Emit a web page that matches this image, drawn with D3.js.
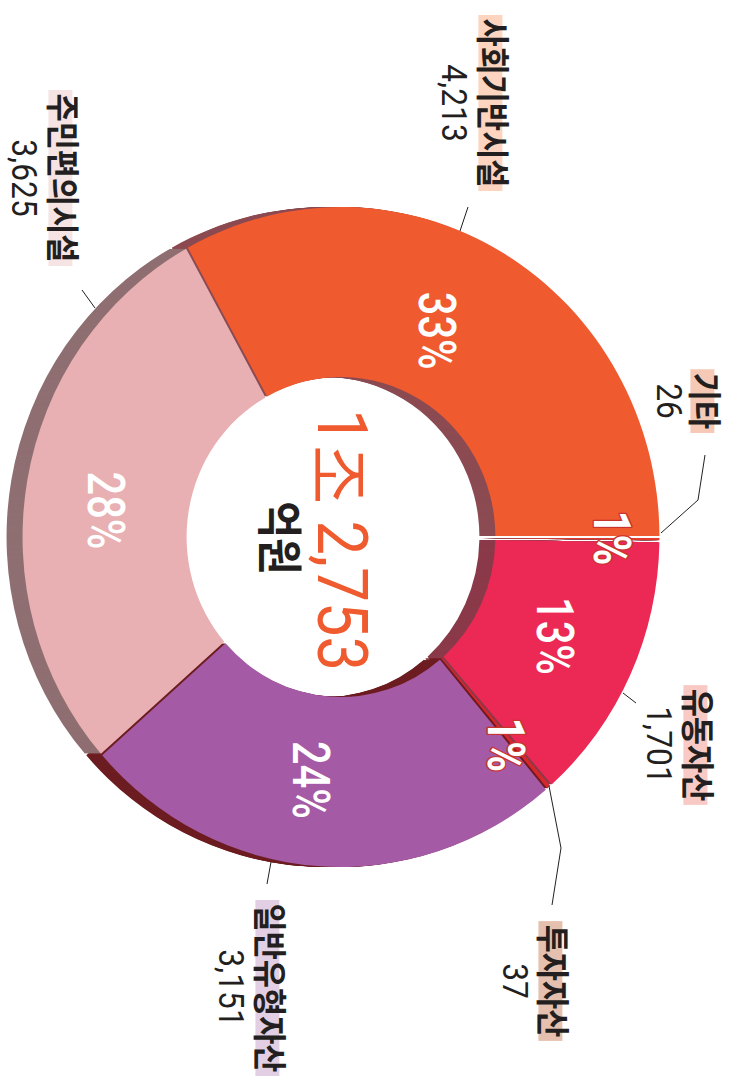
<!DOCTYPE html>
<html>
<head>
<meta charset="utf-8">
<script src="https://d3js.org/d3.v7.min.js"></script>
<style>
    body { margin: 0; background-color: #fff; }
    svg { display: block; }
</style>
</head>
<body>
<svg width="733" height="1087"></svg>
<script>
// slices, clockwise from 3 o'clock (the whole chart is turned 90deg)
var categories = ["기타", "유동자산", "투자자산", "일반유형자산", "주민편의시설", "사회기반시설"];
var values = [26, 1701, 37, 3151, 3625, 4213];
var pctLabels = ["1%", "13%", "1%", "24%", "28%", "33%"];
var unitLabel = "억원";

var faceColors = ["#e23a2c", "#ec2954", "#d8262d", "#a55aa5", "#e8b0b2", "#f05a2f"];
var wallColors = ["#8c4a52", "#8b3a4a", "#6e1b1f", "#6d1e22", "#8f6f72", "#8c4b52"];
var tagColors  = ["#f6c9b7", "#f9c9c5", "#e6c0ae", "#e2cfe4", "#f6e4e4", "#fcd4bf"];

// percentage placement: radius and a small angle nudge (degrees) from the slice middle
var pctPos = [
    {r: 281, da: -0.2}, {r: 243, da: -0.7}, {r: 269, da: 1.3},
    {r: 245, da: 3}, {r: 245, da: -3.7}, {r: 229, da: -4.8}
];

// where the outside labels sit (glyph bottom of name / value, centre y) and their leader lines
var labelPos = [
    {x: 690, vx: 657, y: 401, leader: [[705, 455], [698, 500], [661, 533]]},
    {x: 683, vx: 647, y: 745, leader: [[623, 693], [636, 703]]},
    {x: 538, vx: 503, y: 981, leader: [[549, 786], [561, 848], [552, 905]]},
    {x: 255, vx: 219, y: 988, leader: [[271, 862], [267, 884]]},
    {x: 48,  vx: 12,  y: 178, leader: [[95, 308], [82, 290]]},
    {x: 478, vx: 442, y: 103, leader: [[460, 231], [468, 207]]}
];

var svg = d3.select("svg"),
    cx = 341, cy = 537,
    rOuter = 330, rInner = 160,
    sx = 0.965,        // top face is a little squashed
    depth = 16;        // thickness of the ring, seen on the left

var latin = "Roboto, 'Liberation Sans', Arimo, Arial, sans-serif";
var hangul = "'Noto Sans CJK KR', 'Noto Sans', sans-serif";

var pie = d3.pie()
    .sort(null)
    .startAngle(Math.PI / 2)
    .endAngle(Math.PI / 2 + 2 * Math.PI);
var arcs = pie(values);

var arc = d3.arc()
    .innerRadius(rInner)
    .outerRadius(rOuter)
    .padAngle(2 / rOuter)
    .padRadius(rOuter);

// side walls: stacked copies shifted to the left
for (var t = depth; t >= 1; t -= 1) {
    svg.append("g")
        .attr("transform", "translate(" + (cx - t) + "," + cy + ") scale(" + sx + ",1)")
        .selectAll("path")
        .data(arcs)
        .enter().append("path")
        .attr("d", arc)
        .attr("fill", function(d, i) { return wallColors[i]; });
}

// top face
svg.append("g")
    .attr("transform", "translate(" + cx + "," + cy + ") scale(" + sx + ",1)")
    .selectAll("path")
    .data(arcs)
    .enter().append("path")
    .attr("d", arc)
    .attr("fill", function(d, i) { return faceColors[i]; });

function turned(x, y, k) {
    return svg.append("g")
        .attr("transform", "translate(" + x + "," + y + ") rotate(90) scale(" + k + ",1)");
}

// percentages inside the ring
arcs.forEach(function(d, i) {
    var a = (d.startAngle + d.endAngle) / 2 + pctPos[i].da * Math.PI / 180,
        r = pctPos[i].r,
        small = values[i] < 100,
        x = cx + sx * r * Math.sin(a),
        y = cy - r * Math.cos(a);
    var txt = turned(x, y, 0.8).append("text")
        .attr("text-anchor", "middle")
        .attr("dy", "0.35em")
        .style("font-family", latin)
        .style("font-size", "52px")
        .style("font-weight", small ? "bold" : "500")
        .attr("fill", "#fff")
        .text(pctLabels[i]);
    if (small) {
        txt.attr("stroke", "#c8352e")
            .attr("stroke-width", 3)
            .attr("stroke-linejoin", "round")
            .attr("paint-order", "stroke");
    }
});

// total in the hole
var total = d3.sum(values);
var totalText = Math.floor(total / 10000) + "조 " + d3.format(",")(total % 10000);
turned(318, 540, 0.88).append("text")
    .attr("text-anchor", "middle")
    .style("font-family", latin)
    .style("font-size", "70px")
    .attr("fill", "#f05a2f")
    .text(totalText);
turned(263, 538, 0.87).append("text")
    .attr("text-anchor", "middle")
    .style("font-family", hangul)
    .style("font-size", "46px")
    .style("font-weight", "bold")
    .attr("fill", "#231f20")
    .text(unitLabel);

// leader lines
var line = d3.line();
labelPos.forEach(function(p) {
    svg.append("path")
        .attr("d", line(p.leader))
        .attr("fill", "none")
        .attr("stroke", "#231f20")
        .attr("stroke-width", 1);
});

// outside labels: name on a highlighter strip, value below it
categories.forEach(function(name, i) {
    var p = labelPos[i];
    var g = turned(p.x + 2.4, p.y, 0.9);
    var rect = g.append("rect").attr("fill", tagColors[i]);
    var txt = g.append("text")
        .attr("text-anchor", "middle")
        .style("font-family", hangul)
        .style("font-size", "34px")
        .style("font-weight", "bold")
        .attr("fill", "#231f20")
        .text(name);
    var bb = txt.node().getBBox();
    rect.attr("x", bb.x - 4)
        .attr("width", bb.width + 8)
        .attr("y", -22)
        .attr("height", 24);

    turned(p.vx, p.y, 0.88).append("text")
        .attr("text-anchor", "middle")
        .style("font-family", latin)
        .style("font-size", "36px")
        .attr("fill", "#231f20")
        .text(d3.format(",")(values[i]));
});
</script>
</body>
</html>
